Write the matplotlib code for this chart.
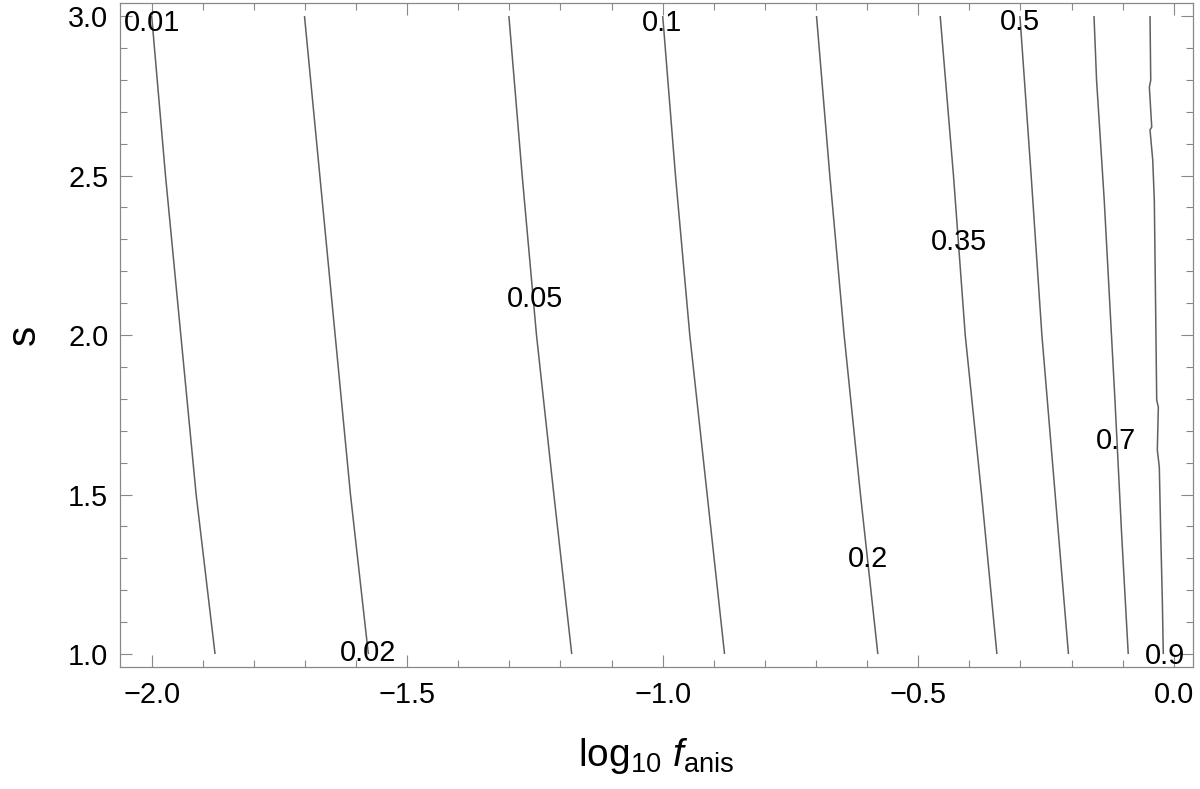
import matplotlib
matplotlib.use('Agg')
import matplotlib.pyplot as plt
from matplotlib.ticker import MultipleLocator, FuncFormatter

plt.rcParams['font.family'] = ['Liberation Sans', 'DejaVu Sans']
plt.rcParams['mathtext.fontset'] = 'custom'
plt.rcParams['mathtext.rm'] = 'Liberation Sans'
plt.rcParams['mathtext.it'] = 'Liberation Sans:italic'

# contour levels and their traces (x = log10 f_anis, y = s)
levels = ['0.01', '0.02', '0.05', '0.1', '0.2', '0.35', '0.5', '0.7', '0.9']
s_grid = [3.0, 2.5, 2.0, 1.5, 1.0]
x_001 = [-2.000, -1.973, -1.943, -1.913, -1.876]
x_002 = [-1.701, -1.671, -1.641, -1.611, -1.576]
x_005 = [-1.301, -1.275, -1.247, -1.213, -1.178]
x_01 = [-1.000, -0.975, -0.947, -0.913, -0.879]
x_02 = [-0.699, -0.673, -0.645, -0.613, -0.579]
x_035 = [-0.457, -0.431, -0.408, -0.376, -0.346]
x_05 = [-0.301, -0.279, -0.258, -0.232, -0.206]
s_07 = [3.0, 2.799, 2.423, 1.796, 1.378, 1.0]
x_07 = [-0.156, -0.151, -0.136, -0.115, -0.102, -0.089]
s_09 = [3.0, 2.799, 2.777, 2.652, 2.643, 2.549, 2.423, 2.110, 1.796, 1.774,
        1.639, 1.586, 1.379, 1.169, 1.0]
x_09 = [-0.0464, -0.0450, -0.0477, -0.0430, -0.0464, -0.0411, -0.0380, -0.0356,
        -0.0333, -0.0301, -0.0321, -0.0282, -0.0255, -0.0223, -0.0204]

# label anchors (baseline of the text)
label_x = [-2.000, -1.576, -1.250, -1.002, -0.599, -0.420, -0.301, -0.112, -0.018]
label_s = [2.952, 0.977, 2.087, 2.954, 1.272, 2.266, 2.955, 1.643, 0.968]

traces = [(s_grid, x_001), (s_grid, x_002), (s_grid, x_005), (s_grid, x_01),
          (s_grid, x_02), (s_grid, x_035), (s_grid, x_05), (s_07, x_07), (s_09, x_09)]

fig = plt.figure(figsize=(12, 7.89), dpi=100)
ax = fig.add_axes([0.1, 0.1542, 0.8942, 0.8416])

for (ss, xx) in traces:
    ax.plot(xx, ss, color='#606060', lw=1.1, solid_capstyle='butt')

for lab, lx, ls in zip(levels, label_x, label_s):
    ax.text(lx, ls, lab, fontsize=20.8, ha='center', va='baseline', color='black', zorder=5)

ax.set_xlim(-2.062, 0.0378)
ax.set_ylim(0.9583, 3.0398)

def fmt(v, pos):
    return ('%.1f' % v).replace('-', '\u2212')

ax.xaxis.set_major_locator(MultipleLocator(0.5))
ax.xaxis.set_minor_locator(MultipleLocator(0.1))
ax.yaxis.set_major_locator(MultipleLocator(0.5))
ax.yaxis.set_minor_locator(MultipleLocator(0.1))
ax.xaxis.set_major_formatter(FuncFormatter(fmt))
ax.yaxis.set_major_formatter(FuncFormatter(fmt))

ax.tick_params(which='both', direction='in', top=True, right=True, color='#888888', width=0.8)
ax.tick_params(which='major', length=8.6, labelsize=20.8)
ax.tick_params(which='minor', length=5)
ax.tick_params(axis='x', which='major', pad=10)
ax.tick_params(axis='y', which='major', pad=8.4)

[sp.set_color('#888888') for sp in ax.spines.values()]
[sp.set_linewidth(0.9) for sp in ax.spines.values()]

ax.set_xlabel(r'$\mathrm{log}_{10}\ f_{\mathrm{anis}}$', fontsize=28, labelpad=19)
ax.set_ylabel('s', fontsize=29, labelpad=18)

fig.savefig('out.png', dpi=100)
plt.close()
